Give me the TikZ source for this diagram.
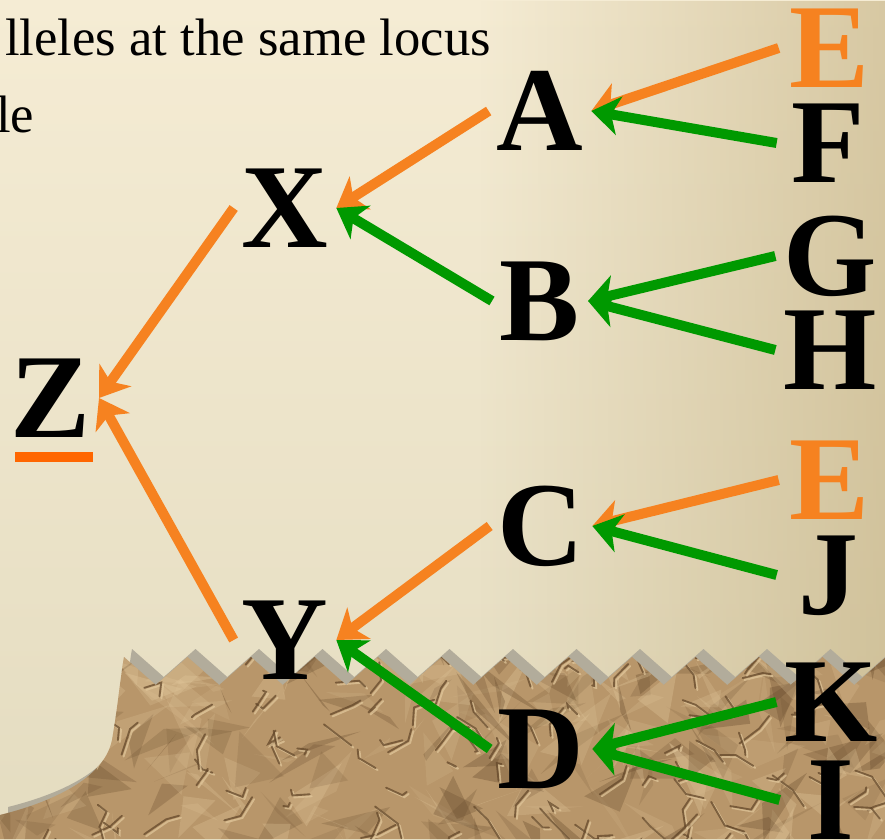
\documentclass[tikz,border=0pt]{standalone}
\usepackage{fontspec}
\setmainfont{Liberation Serif}
\usetikzlibrary{arrows.meta,fadings}
\definecolor{org}{RGB}{246,130,32}
\definecolor{uline}{RGB}{255,102,0}
\definecolor{grn}{RGB}{0,153,0}
\definecolor{bgT}{RGB}{245,236,212}
\definecolor{bgB}{RGB}{228,220,192}
\definecolor{bgR}{RGB}{186,165,114}
\definecolor{shad}{RGB}{178,172,155}
\definecolor{paper}{RGB}{184,150,106}
\definecolor{pdark}{RGB}{100,72,42}
\definecolor{plight}{RGB}{226,200,156}
\tikzfading[name=fadeR, left color=transparent!100, right color=transparent!0]
\tikzset{
  letter/.style={font=\fontsize{90}{90}\selectfont\bfseries, inner sep=0pt, outer sep=6pt, text depth=0pt},
  rletter/.style={letter, minimum width=65pt},
  oa/.style={draw=org, line width=7.5pt, -{Stealth[length=21pt,width=29pt,inset=6pt]}},
  ga/.style={oa, draw=grn},
  toptext/.style={font=\fontsize{39.5}{47}\selectfont, inner sep=0pt, anchor=base west}
}
\begin{document}
\begin{tikzpicture}[x=0.75pt,y=-0.75pt]
\useasboundingbox (0,0) rectangle (885,839);
\shade[top color=bgT, bottom color=bgB] (0,0) rectangle (885,839);
\fill[bgR, opacity=0.5, path fading=fadeR] (480,0) rectangle (885,839);
% shadow of torn edge
\fill[shad, xshift=6pt, yshift=6pt] (0,839) -- (0,815) .. controls (60,800) and (105,775) .. (112,740) .. controls (118,705) and (120,680) .. (124,657)
  \foreach \k in {0,...,11} { -- ({124+63.5*\k+31.75},685) -- ({124+63.5*(\k+1)},657) } -- (900,839) -- cycle;
% crumpled ground
\begin{scope}
\clip (0,839) -- (0,815) .. controls (60,800) and (105,775) .. (112,740) .. controls (118,705) and (120,680) .. (124,657)
  \foreach \k in {0,...,11} { -- ({124+63.5*\k+31.75},685) -- ({124+63.5*(\k+1)},657) } -- (900,839) -- cycle;
\fill[paper] (0,620) rectangle (900,839);
\pgfmathsetseed{17}
\foreach \i in {1,...,300}{
  \pgfmathsetmacro\xa{rnd*920-10}
  \pgfmathsetmacro\ya{630+rnd*230}
  \pgfmathsetmacro\xb{\xa+(rnd-0.5)*110}
  \pgfmathsetmacro\yb{\ya+(rnd-0.5)*90}
  \pgfmathsetmacro\xc{\xa+(rnd-0.5)*110}
  \pgfmathsetmacro\yc{\ya+(rnd-0.5)*90}
  \pgfmathsetmacro\op{0.12+0.22*rnd}
  \ifodd\i
    \fill[plight, opacity=\op] (\xa,\ya) -- (\xb,\yb) -- (\xc,\yc) -- cycle;
  \else
    \fill[pdark, opacity=\op] (\xa,\ya) -- (\xb,\yb) -- (\xc,\yc) -- cycle;
  \fi
}
\foreach \i in {1,...,140}{
  \pgfmathsetmacro\xa{rnd*920-10}
  \pgfmathsetmacro\ya{630+rnd*230}
  \pgfmathsetmacro\dx{(rnd-0.5)*70}
  \pgfmathsetmacro\dy{(rnd-0.5)*70}
  \pgfmathsetmacro\ex{\dx*0.5+(rnd-0.5)*20}
  \pgfmathsetmacro\ey{\dy*0.5+(rnd-0.5)*20}
  \draw[plight, line width=1.4pt, opacity=0.7, line cap=round] ({\xa+2},{\ya+2}) -- ++(\ex,\ey) -- ({\xa+2+\dx},{\ya+2+\dy});
  \draw[pdark, line width=1.4pt, opacity=0.75, line cap=round] (\xa,\ya) -- ++(\ex,\ey) -- ({\xa+\dx},{\ya+\dy});
}
\end{scope}
% top text
\node[toptext] (t1) at (5,55) {lleles at the same locus};
\node[toptext] (t2) at (-4,132) {le};
% letters
\node[letter] (Z) at (51,398) {Z};
\fill[uline] (15,452) rectangle (93,462);
\node[letter] (X) at (285,208) {X};
\node[letter] (Y) at (285,640) {Y};
\node[letter] (A) at (540,111) {A};
\node[letter] (B) at (540,301) {B};
\node[letter] (C) at (541,526) {C};
\node[letter] (D) at (541,749) {D};
\node[rletter, text=org] (E1) at (830,48) {E};
\node[rletter] (F) at (828,143) {F};
\node[rletter] (G) at (830,256) {G};
\node[rletter] (H) at (830,350) {H};
\node[rletter, text=org] (E2) at (830,480) {E};
\node[rletter] (J) at (828,575) {J};
\node[rletter] (K) at (831,702) {K};
\node[rletter] (I) at (831,800) {I};
% arrows
\draw[oa] (E1.west) -- (A.east);
\draw[ga] (F.west) -- (A.east);
\draw[oa] (A.west) -- (X.east);
\draw[ga] (B.west) -- (X.east);
\draw[oa] (X.west) -- (Z.east);
\draw[oa] (Y.west) -- (Z.east);
\draw[ga] (G.west) -- (B.east);
\draw[ga] (H.west) -- (B.east);
\draw[oa] (E2.west) -- (C.east);
\draw[ga] (J.west) -- (C.east);
\draw[oa] (C.west) -- (Y.east);
\draw[ga] (D.west) -- (Y.east);
\draw[ga] (K.west) -- (D.east);
\draw[ga] (I.west) -- (D.east);
\end{tikzpicture}
\end{document}
